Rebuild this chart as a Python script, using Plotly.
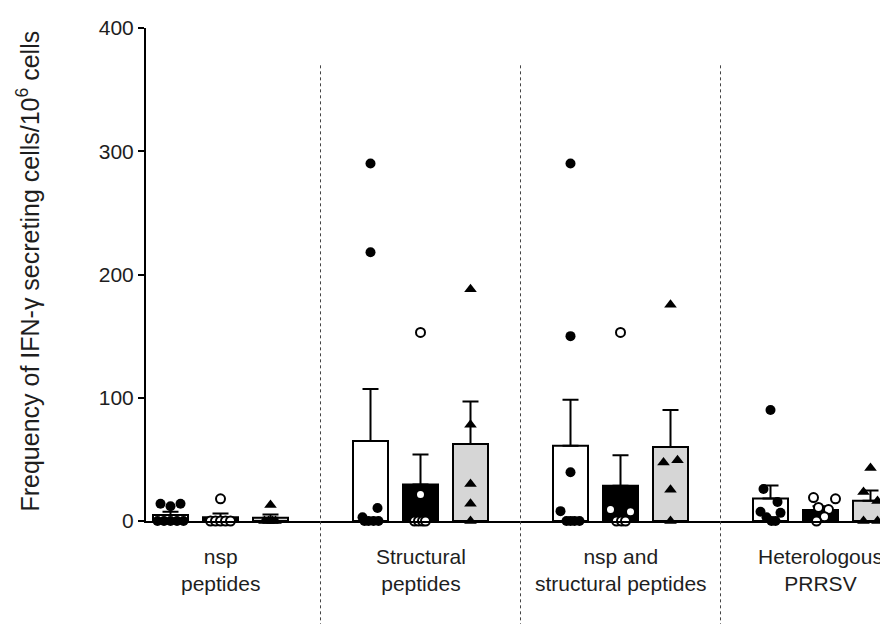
import plotly.graph_objects as go

# ---------------- data ----------------
categories = ["nsp<br>peptides", "Structural<br>peptides",
              "nsp and<br>structural peptides", "Heterologous<br>PRRSV"]
y_ticks = [0, 100, 200, 300, 400]
y_title = "Frequency of IFN-γ secreting cells/10<sup>6</sup> cells"

# bar heights (mean) and SEM for the three series in each category
mean_s1 = [4.8, 65.0, 61.0, 18.3]
sem_s1 = [2.7, 42.0, 37.3, 10.5]
mean_s2 = [3.0, 29.6, 28.6, 9.0]
sem_s2 = [3.0, 24.4, 24.7, 3.0]
mean_s3 = [2.6, 62.5, 60.0, 16.4]
sem_s3 = [2.6, 34.5, 30.0, 8.4]

# individual animals
pts_s1 = [[14, 12, 14, 0, 0, 0, 0, 0],
          [290, 218, 10.5, 3, 0, 0, 0, 0],
          [290, 150, 39.5, 8, 0, 0, 0, 0],
          [90, 26, 15.5, 7.5, 6.6, 3, 0, 0]]
pts_s2 = [[18, 0, 0, 0, 0, 0],
          [153, 21.5, 0, 0, 0, 0],
          [153, 9.3, 7.5, 0, 0, 0],
          [19, 18, 11, 9.3, 3.5, 0]]
pts_s3 = [[13, 0, 0, 0, 0],
          [188, 78, 30, 14, 0],
          [175.5, 49.3, 47.5, 25.3, 0],
          [43, 23.5, 16.3, 0, 0]]

# ---------------- layout / style ----------------
# horizontal scatter of the dots inside a bar (pixels from bar centre)
jit_s1 = [[-10, 0, 10, -13, -6.5, 0, 6.5, 13],
          [0, 0, 7, -8, -6, -2, 3, 8],
          [0, 0, 0, -10, -4, 0, 4, 9],
          [0, -7, 7, -10, 10, -4, 1, 5]]
jit_s2 = [[0, -10, -5, 0, 5, 10],
          [0, 0, -6, -2, 2, 5],
          [0, -10, 10, -4, 1, 5],
          [-7, 15, -2, 8, 4, -4]]
jit_s3 = [[0, -6, -2, 2, 5],
          [0, 0, 0, 0, 0],
          [0, 7, -7, 0, 0],
          [0, -7, 7, -7, 7]]

PX_PER_UNIT = 50.0
FONT = "Liberation Sans, Arial, Helvetica, sans-serif"
TXT = "#1e1e1e"
W, H = 888, 624
OFF = 8  # page body margin
# plot-area edges in page pixels: left 146, right 888, top 21, bottom 521
ML, MR, MT = 146 - OFF, OFF, 21 - OFF
MB = H - (521 - OFF)
plot_w = W - ML - MR
plot_h = H - MT - MB


def page_y_to_paper(py):
    return (521 - py) / plot_h


def page_x_to_paper(px):
    return (px - 146) / plot_w


series = [
    dict(mean=mean_s1, sem=sem_s1, pts=pts_s1, jit=jit_s1, fill="white",
         msym="circle", mcol="black", mline=0, msize=10),
    dict(mean=mean_s2, sem=sem_s2, pts=pts_s2, jit=jit_s2, fill="black",
         msym="circle", mcol="white", mline=2, msize=9),
    dict(mean=mean_s3, sem=sem_s3, pts=pts_s3, jit=jit_s3, fill="#d6d6d6",
         msym="triangle-up", mcol="black", mline=0, msize=11),
]

n_groups = len(categories)
fig = go.Figure()

for si, s in enumerate(series):
    xs = [g * 4 + si for g in range(n_groups)]
    fig.add_trace(go.Bar(
        x=xs, y=s["mean"], width=0.7,
        marker=dict(color=s["fill"], line=dict(color="black", width=2)),
        error_y=dict(type="data", symmetric=False, array=s["sem"],
                     arrayminus=[0] * n_groups, color="black",
                     thickness=2, width=8),
        showlegend=False, hoverinfo="y",
    ))

for si, s in enumerate(series):
    px, py = [], []
    for g in range(n_groups):
        for v, j in zip(s["pts"][g], s["jit"][g]):
            px.append(g * 4 + si + j / PX_PER_UNIT)
            py.append(v)
    fig.add_trace(go.Scatter(
        x=px, y=py, mode="markers", cliponaxis=False, showlegend=False,
        marker=dict(symbol=s["msym"], size=s["msize"], color=s["mcol"],
                    line=dict(color="black", width=s["mline"])),
    ))

for g in range(n_groups - 1):
    fig.add_shape(type="line", xref="x", yref="paper",
                  x0=g * 4 + 3, x1=g * 4 + 3,
                  y0=page_y_to_paper(640), y1=page_y_to_paper(58),
                  line=dict(color="#444444", width=1, dash="dot"))

for g, c in enumerate(categories):
    fig.add_annotation(text=c, x=g * 4 + 1, xref="x",
                       y=page_y_to_paper(571), yref="paper",
                       showarrow=False, yanchor="middle",
                       font=dict(family=FONT, size=21, color=TXT))

fig.add_annotation(text=y_title, xref="paper", x=page_x_to_paper(28),
                   yref="paper", y=page_y_to_paper(268), textangle=-90,
                   showarrow=False, xanchor="center", yanchor="middle",
                   font=dict(family=FONT, size=25, color=TXT))

left = -24.5 / PX_PER_UNIT
fig.update_layout(
    width=W, height=H, margin=dict(l=ML, r=MR, t=MT, b=MB, pad=0),
    paper_bgcolor="white", plot_bgcolor="white", barmode="overlay",
    font=dict(family=FONT, color=TXT),
    xaxis=dict(range=[left, left + plot_w / PX_PER_UNIT],
               showline=True, linecolor="black", linewidth=2,
               showticklabels=False, ticks="", showgrid=False,
               zeroline=False, fixedrange=True),
    yaxis=dict(range=[0, 400], tickvals=y_ticks, showline=True,
               linecolor="black", linewidth=2, ticks="outside", ticklen=6,
               tickwidth=2, tickcolor="black", showgrid=False,
               zeroline=False, tickfont=dict(family=FONT, size=21,
                                             color=TXT)),
)

fig.write_html("out.html")
